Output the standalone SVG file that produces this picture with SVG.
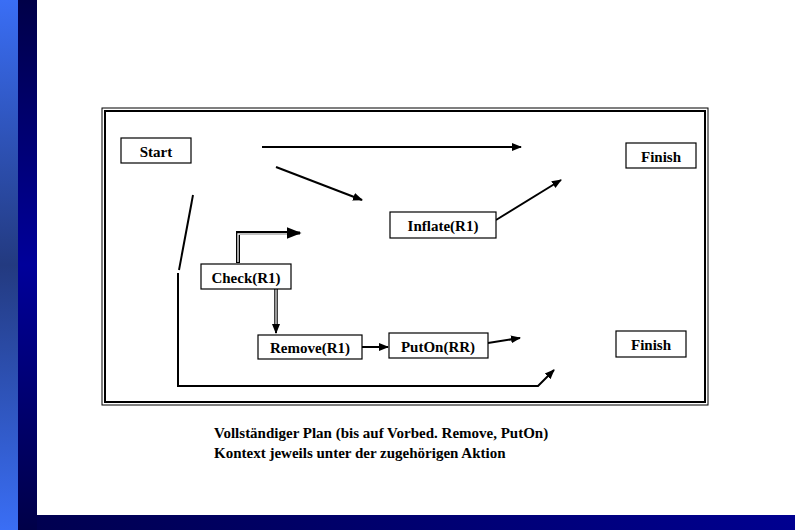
<svg xmlns="http://www.w3.org/2000/svg" width="795" height="530" viewBox="0 0 795 530">
<style>
.box{fill:#fff;stroke:#000;stroke-width:1.2}
.t{font-family:"Liberation Serif",serif;font-weight:bold;font-size:15px;fill:#000}
.c{stroke:#000;stroke-width:2;fill:none}
</style>
<defs>
<linearGradient id="g1" x1="0" y1="0" x2="0" y2="1"><stop offset="0" stop-color="#3a6ef5"/><stop offset="0.5" stop-color="#233a80"/><stop offset="1" stop-color="#3a6ef5"/></linearGradient>
<linearGradient id="g2" x1="0" y1="0" x2="0" y2="1"><stop offset="0" stop-color="#000048"/><stop offset="0.5" stop-color="#00009a"/><stop offset="1" stop-color="#000048"/></linearGradient>
<linearGradient id="g3" x1="0" y1="0" x2="1" y2="0"><stop offset="0" stop-color="#000050"/><stop offset="1" stop-color="#000090"/></linearGradient>
<marker id="a" viewBox="0 0 10 10" refX="9" refY="5" markerWidth="5" markerHeight="5" orient="auto"><path d="M0,1 L10,5 L0,9 z" fill="#000"/></marker>
</defs>
<rect width="795" height="530" fill="#fff"/>
<rect x="0" y="0" width="18" height="530" fill="url(#g1)"/>
<rect x="18" y="0" width="19" height="530" fill="url(#g2)"/>
<rect x="37" y="515" width="758" height="15" fill="url(#g3)"/>
<rect x="102" y="108" width="606" height="297" fill="none" stroke="#000" stroke-width="1"/>
<rect x="105" y="111" width="600" height="291" fill="none" stroke="#000" stroke-width="2"/>
<g id="connectors">
<line class="c" x1="262" y1="147" x2="521" y2="147" marker-end="url(#a)"/>
<line class="c" x1="276" y1="167" x2="362" y2="200" marker-end="url(#a)"/>
<line class="c" x1="496" y1="220" x2="561" y2="180" marker-end="url(#a)"/>
<polyline class="c" points="193,195 179,270"/>
<polyline class="c" points="178,273 178,386 538,386 554,370" marker-end="url(#a)"/>
<polyline points="238,263 238,233 292,233" fill="none" stroke="#000" stroke-width="4"/>
<polyline points="238,262 238,234 292,234" fill="none" stroke="#fff" stroke-width="1.3"/>
<line x1="290" y1="233" x2="300" y2="233" stroke="#000" stroke-width="3" marker-end="url(#a)"/>
<line x1="276" y1="289" x2="276" y2="326" stroke="#000" stroke-width="3.5"/>
<line x1="276" y1="289" x2="276" y2="326" stroke="#fff" stroke-width="1.2"/>
<line x1="276" y1="324" x2="276" y2="333" stroke="#000" stroke-width="2" marker-end="url(#a)"/>
<line class="c" x1="362" y1="347" x2="388" y2="347" marker-end="url(#a)"/>
<line class="c" x1="488" y1="343" x2="520" y2="338" marker-end="url(#a)"/>
</g>
<g id="start"><rect class="box" x="121" y="138" width="70" height="25"/><text class="t" x="156" y="157" text-anchor="middle">Start</text></g>
<g id="finish1"><rect class="box" x="626" y="143" width="70" height="25"/><text class="t" x="661" y="162" text-anchor="middle">Finish</text></g>
<g id="inflate"><rect class="box" x="390" y="212" width="106" height="26"/><text class="t" x="443" y="231" text-anchor="middle">Inflate(R1)</text></g>
<g id="check"><rect class="box" x="201" y="264" width="90" height="25"/><text class="t" x="246" y="283" text-anchor="middle">Check(R1)</text></g>
<g id="remove"><rect class="box" x="258" y="335" width="104" height="24"/><text class="t" x="310" y="353" text-anchor="middle">Remove(R1)</text></g>
<g id="puton"><rect class="box" x="389" y="333" width="99" height="25"/><text class="t" x="438" y="352" text-anchor="middle">PutOn(RR)</text></g>
<g id="finish2"><rect class="box" x="616" y="331" width="70" height="26"/><text class="t" x="651" y="350" text-anchor="middle">Finish</text></g>
<text class="t" x="214" y="438">Vollständiger Plan (bis auf Vorbed. Remove, PutOn)</text>
<text class="t" x="214" y="458">Kontext jeweils unter der zugehörigen Aktion</text>
</svg>
